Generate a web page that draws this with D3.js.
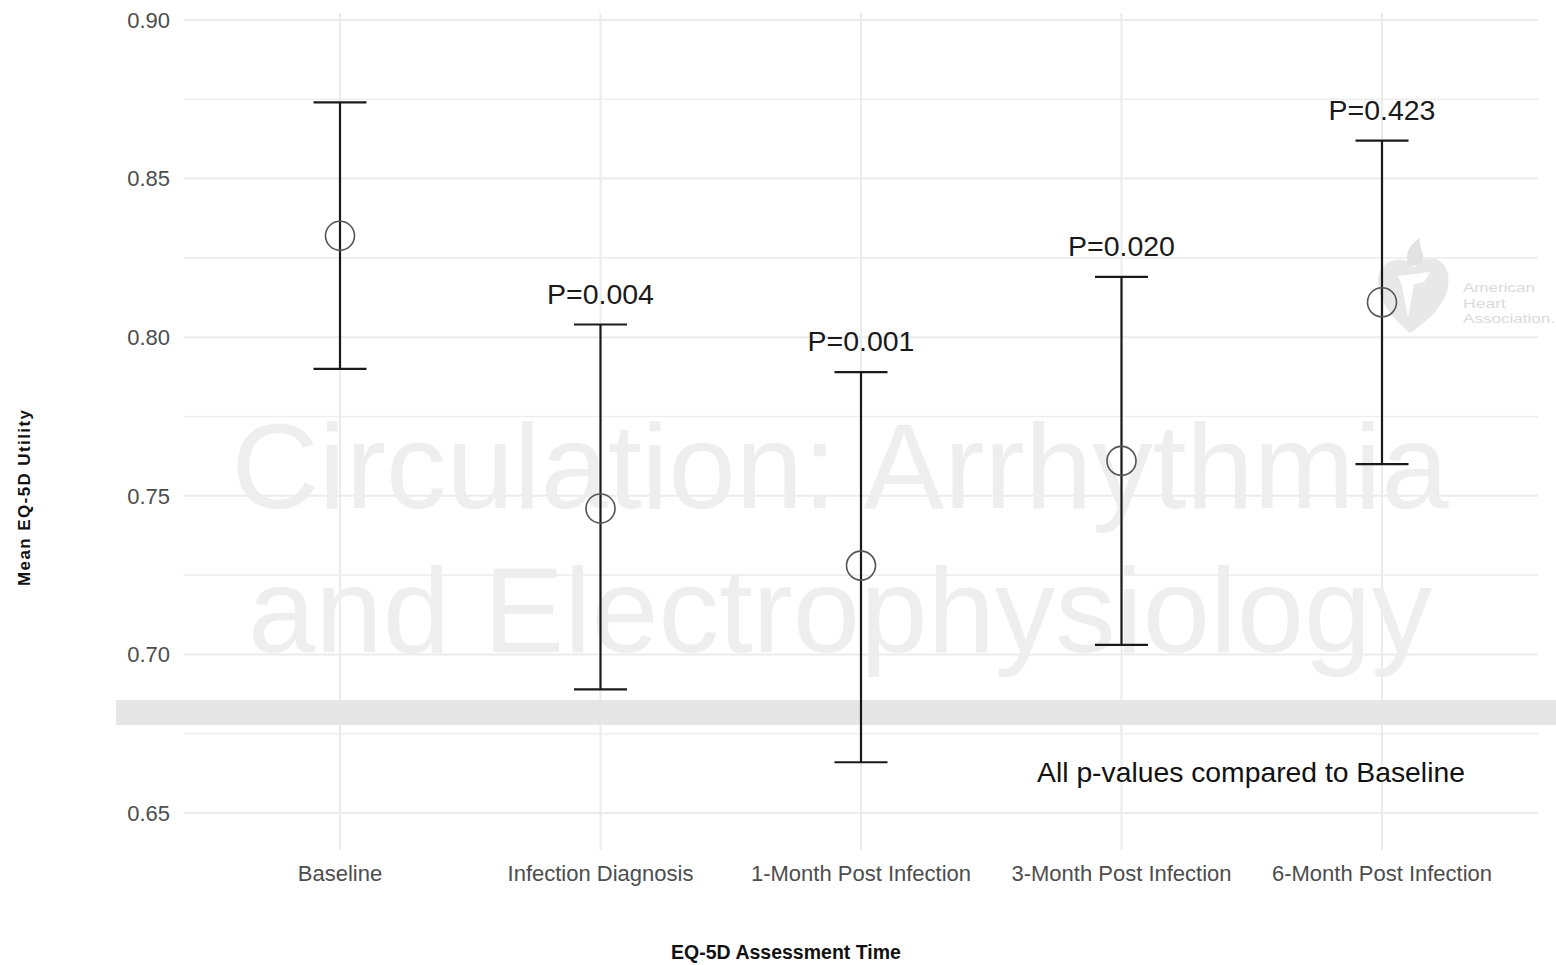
<!DOCTYPE html>
<html><head><meta charset="utf-8">
<script src="https://cdn.jsdelivr.net/npm/d3@7"></script>
<style>body{margin:0;background:#fff}svg{display:block}</style>
</head><body>
<svg id="chart" width="1556" height="965"></svg>
<script>
const categories = ["Baseline","Infection Diagnosis","1-Month Post Infection","3-Month Post Infection","6-Month Post Infection"];
const means = [0.832, 0.746, 0.728, 0.761, 0.811];
const lower = [0.790, 0.689, 0.666, 0.703, 0.760];
const upper = [0.874, 0.804, 0.789, 0.819, 0.862];
const pLabels = ["", "P=0.004", "P=0.001", "P=0.020", "P=0.423"];
const yTicks = [0.65, 0.70, 0.75, 0.80, 0.85, 0.90];
const yMinor = [0.675, 0.725, 0.775, 0.825, 0.875];

const svg = d3.select("#chart");
const font = "'Liberation Sans', Arial, sans-serif";
const panel = {left:183.5, right:1538, top:13, bottom:850};

const x = d3.scalePoint().domain(categories).range([340, 1382]);
const y = d3.scaleLinear().domain([0.65, 0.90]).range([813, 20]);

const grid = svg.append("g");
grid.selectAll("line.minor").data(yMinor).join("line")
  .attr("x1", panel.left).attr("x2", panel.right)
  .attr("y1", d => y(d)).attr("y2", d => y(d))
  .attr("stroke", "#eeeeee").attr("stroke-width", 1.6);
grid.selectAll("line.major").data(yTicks).join("line")
  .attr("x1", panel.left).attr("x2", panel.right)
  .attr("y1", d => y(d)).attr("y2", d => y(d))
  .attr("stroke", "#ebebeb").attr("stroke-width", 2);
grid.selectAll("line.vert").data(categories).join("line")
  .attr("x1", d => x(d)).attr("x2", d => x(d))
  .attr("y1", panel.top).attr("y2", panel.bottom)
  .attr("stroke", "#ebebeb").attr("stroke-width", 2);

// watermark
const wm = svg.append("g").attr("fill", "#eeeeee").attr("font-family", font)
  .attr("font-size", 121).attr("text-anchor", "middle");
wm.append("text").attr("x", 840).attr("y", 508).text("Circulation: Arrhythmia");
wm.append("text").attr("x", 840).attr("y", 652).text("and Electrophysiology");

// grey band artifact
svg.append("rect").attr("x", 116).attr("y", 700).attr("width", 1440).attr("height", 25).attr("fill", "#e6e6e6");

// AHA logo watermark
const logo = svg.append("g").attr("fill", "#e8e8e8");
logo.append("path").attr("d",
  "M1410,333 C1392,318 1378,300 1378,282 C1378,266 1390,258 1403,260 C1409,261 1413,264 1414,268 C1418,260 1428,256 1436,259 C1446,263 1450,274 1448,287 C1445,304 1430,320 1410,333 Z");
logo.append("path").attr("fill", "#e2e2e2").attr("d",
  "M1408,266 C1404,254 1410,244 1420,238 C1418,248 1426,252 1422,264 Z");
logo.append("path").attr("fill", "#ffffff").attr("d",
  "M1398,276 L1430,272 L1424,282 L1414,284 L1408,318 L1402,286 Z");
const logoTxt = svg.append("g").attr("fill", "#dadada").attr("font-family", font).attr("font-size", 13.5);
const logoLines = [["American", 72], ["Heart", 43], ["Association.", 92]];
logoLines.forEach((t,i) => {
  logoTxt.append("text").attr("x", 1463).attr("y", 292 + i*15.5)
    .attr("textLength", t[1]).attr("lengthAdjust", "spacingAndGlyphs").text(t[0]);
});

// y tick labels
svg.append("g").selectAll("text").data(yTicks).join("text")
  .attr("x", 170).attr("y", d => y(d)).attr("dy", "0.35em")
  .attr("text-anchor", "end").attr("font-family", font).attr("font-size", 22)
  .attr("fill", "#4d4d4d").text(d => d.toFixed(2));

// x tick labels
svg.append("g").selectAll("text").data(categories).join("text")
  .attr("x", d => x(d)).attr("y", 881)
  .attr("text-anchor", "middle").attr("font-family", font).attr("font-size", 22)
  .attr("fill", "#4d4d4d").text(d => d);

// error bars
const eb = svg.append("g").attr("stroke", "#1a1a1a").attr("stroke-width", 2.2);
eb.selectAll("line.v").data(categories).join("line")
  .attr("x1", d => x(d)).attr("x2", d => x(d))
  .attr("y1", (d,i) => y(upper[i])).attr("y2", (d,i) => y(lower[i]));
eb.selectAll("line.u").data(categories).join("line")
  .attr("x1", d => x(d) - 26.5).attr("x2", d => x(d) + 26.5)
  .attr("y1", (d,i) => y(upper[i])).attr("y2", (d,i) => y(upper[i]));
eb.selectAll("line.l").data(categories).join("line")
  .attr("x1", d => x(d) - 26.5).attr("x2", d => x(d) + 26.5)
  .attr("y1", (d,i) => y(lower[i])).attr("y2", (d,i) => y(lower[i]));

// mean points
svg.append("g").selectAll("circle").data(categories).join("circle")
  .attr("cx", d => x(d)).attr("cy", (d,i) => y(means[i])).attr("r", 14.5)
  .attr("fill", "none").attr("stroke", "#555").attr("stroke-width", 1.6);

// p labels
svg.append("g").selectAll("text").data(categories).join("text")
  .attr("x", d => x(d)).attr("y", (d,i) => y(upper[i]) - 21)
  .attr("text-anchor", "middle").attr("font-family", font).attr("font-size", 28.5)
  .attr("fill", "#1a1a1a").text((d,i) => pLabels[i]);

svg.append("text").attr("x", 1251).attr("y", 782).attr("text-anchor", "middle")
  .attr("font-family", font).attr("font-size", 28.3).attr("fill", "#111")
  .text("All p-values compared to Baseline");

// axis titles
svg.append("text").attr("x", 786).attr("y", 959).attr("text-anchor", "middle")
  .attr("font-family", font).attr("font-size", 19.5).attr("font-weight", "bold")
  .attr("fill", "#111").text("EQ-5D Assessment  Time");
svg.append("text").attr("transform", "translate(30,498) rotate(-90)")
  .attr("text-anchor", "middle").attr("font-family", font).attr("font-size", 17)
  .attr("font-weight", "bold").attr("textLength", 176).attr("fill", "#111")
  .text("Mean EQ-5D  Utility");
</script>
</body></html>
